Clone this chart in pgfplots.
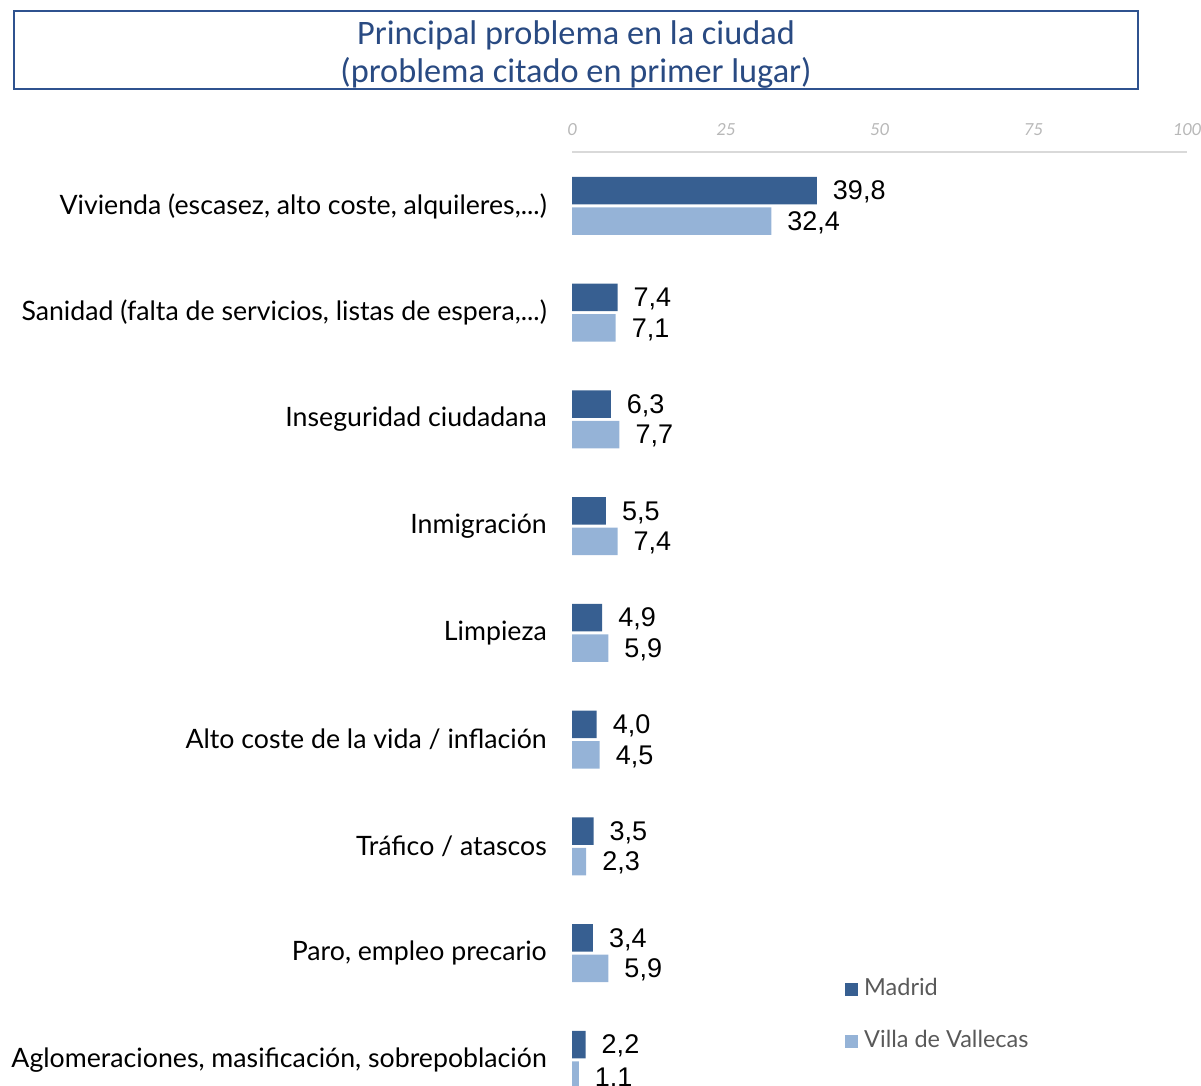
\documentclass[border=0pt]{standalone}
\usepackage{fontspec}
\usepackage{pgfplots}
\pgfplotsset{compat=1.18}
\newfontfamily\lato{Lato}
\newfontfamily\carlito{Carlito}
\newfontfamily\libsans{Liberation Sans}
\definecolor{madrid}{RGB}{55,95,145}
\definecolor{villa}{RGB}{149,179,215}
\definecolor{tblue}{RGB}{47,82,143}
\definecolor{ttext}{RGB}{41,74,130}
\definecolor{legtext}{RGB}{89,89,89}
\newcommand{\dotsx}{.{}.{}.}
\begin{document}
\begin{tikzpicture}[x=1bp,y=1bp]
\path[use as bounding box] (0,0) rectangle (1201,1086);
\clip (0,0) rectangle (1201,1086);
\draw[tblue, line width=2.5bp] (14,1075) rectangle (1138,997);
\node[text=ttext, align=center, font=\carlito\fontsize{34.3bp}{38bp}\selectfont] at (576,1031) {Principal problema en la ciudad\\(problema citado en primer lugar)};
\begin{axis}[
  at={(572bp,934bp)}, anchor=north west,
  width=615bp, height=934bp, scale only axis,
  xmin=0, xmax=100, ymin=-0.2436, ymax=8.5059,
  xbar, bar width=27.5bp,
  axis x line*=top, axis y line*=left,
  x axis line style={draw=black!15, line width=2bp, -},
  y axis line style={draw=none},
  xtick={0,25,50,75,100},
  major tick length=0pt,
  xticklabel pos=top,
  /pgf/number format/assume math mode=true,
  xticklabel style={font=\carlito\itshape\fontsize{18.5bp}{20bp}\selectfont, text=black!28, inner sep=0pt, yshift=16.5bp},
  ytick={0,1,2,3,4,5,6,7,8},
  yticklabels={{Aglomeraciones, masificación, sobrepoblación},{Paro, empleo precario},{Tráfico / atascos},{Alto coste de la vida / inflación},{Limpieza},{Inmigración},{Inseguridad ciudadana},{Sanidad (falta de servicios, listas de espera,\dotsx)},{Vivienda (escasez, alto coste, alquileres,\dotsx)}},
  yticklabel style={font=\lato\fontsize{26.7bp}{30bp}\selectfont, inner sep=0pt, xshift=-25bp, anchor=east},
  nodes near coords,
  point meta=explicit symbolic,
  nodes near coords style={font=\libsans\fontsize{27bp}{30bp}\selectfont, anchor=west, inner sep=0pt, xshift=16bp, yshift=-1.5bp, text=black},
  legend style={at={(0.4439,0.1156)}, anchor=north west, draw=none, fill=none, inner sep=0pt,
    font=\lato\fontsize{23.5bp}{26bp}\selectfont, text=legtext, row sep=30bp,
    nodes={inner sep=0pt, text height=17bp, text depth=5bp}},
  legend cell align=left,
  legend image code/.code={\fill (0bp,-6.5bp) rectangle (13bp,6.5bp);},
]
\addplot[fill=madrid, draw=none, bar shift=15.25bp] table[meta=lab] {
x y lab
39.8 8 39,8
7.4 7 7,4
6.3 6 6,3
5.5 5 5,5
4.9 4 4,9
4.0 3 4,0
3.5 2 3,5
3.4 1 3,4
2.2 0 2,2
};
\addlegendentry{\hspace{6bp}Madrid}
\addplot[fill=villa, draw=none, bar shift=-15.25bp] table[meta=lab] {
x y lab
32.4 8 32,4
7.1 7 7,1
7.7 6 7,7
7.4 5 7,4
5.9 4 5,9
4.5 3 4,5
2.3 2 2,3
5.9 1 5,9
1.1 0 1.1
};
\addlegendentry{\hspace{6bp}Villa de Vallecas}
\end{axis}
\end{tikzpicture}
\end{document}
